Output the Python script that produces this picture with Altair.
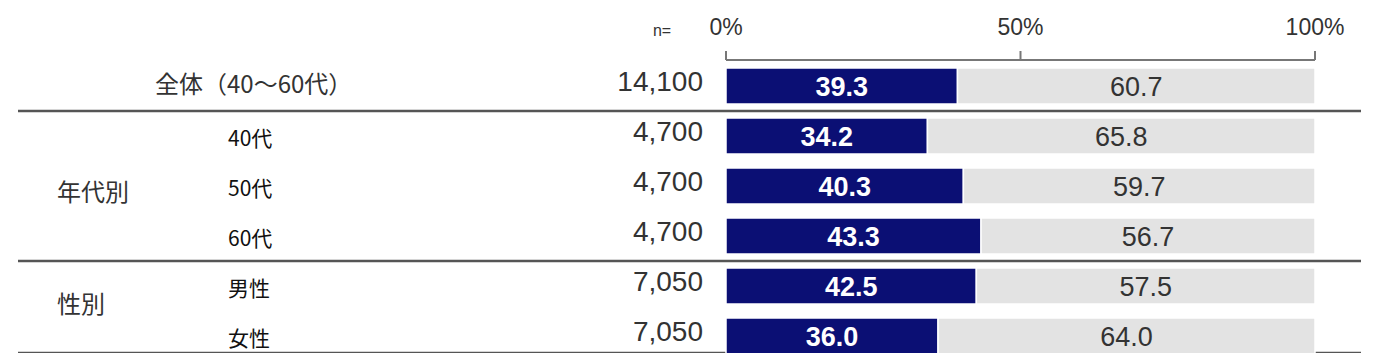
import altair as alt
import pandas as pd

# ---- data ----
rows = ["全体（40～60代）", "40代", "50代", "60代", "男性", "女性"]
n_labels = ["14,100", "4,700", "4,700", "4,700", "7,050", "7,050"]
yes_vals = [39.3, 34.2, 40.3, 43.3, 42.5, 36.0]
no_vals = [60.7, 65.8, 59.7, 56.7, 57.5, 64.0]
group_labels = ["年代別", "性別"]
group_rows = ["50代", "男性"]
group_offsets = [26, 38]
sep_rows = ["全体（40～60代）", "60代", "女性"]
sep_offsets = [43, 43, 35]
tick_vals = [0, 50, 100]
tick_text = ["0%", "50%", "100%"]

FONT = "Liberation Sans"
CJK = "Noto Sans CJK JP"
NAVY = "#0b0f74"
LGREY = "#e3e3e3"

W, H = 1368, 345

segs = []
for r, y, nn in zip(rows, yes_vals, no_vals):
    segs.append({"row": r, "start": 0.0, "end": y, "val": f"{y:.1f}", "part": "yes", "mid": y / 2})
    segs.append({"row": r, "start": y, "end": 100.0, "val": f"{nn:.1f}", "part": "no", "mid": y + nn / 2})
seg_df = pd.DataFrame(segs)
row_df = pd.DataFrame({"row": rows, "n": n_labels})
grp_df = pd.DataFrame({"row": group_rows, "label": group_labels, "off": group_offsets})
sep_df = pd.DataFrame({"row": sep_rows, "off": sep_offsets})
tick_df = pd.DataFrame({"v": tick_vals, "t": tick_text})
dom_df = pd.DataFrame({"a": [0], "b": [100]})

xs = alt.Scale(domain=[0, 100], range=[718, 1307])
ys = alt.Scale(domain=rows, range=[53, 353], paddingInner=0.28, paddingOuter=0.14)

X = lambda f: alt.X(f, type="quantitative", scale=xs, axis=None)
Y = alt.Y("row:N", scale=ys, axis=None, sort=rows)

bars = alt.Chart(seg_df).mark_bar(stroke="white", strokeWidth=1.5, strokeOpacity=1).encode(
    x=X("start"), x2="end", y=Y,
    color=alt.Color("part:N", scale=alt.Scale(domain=["yes", "no"], range=[NAVY, LGREY]), legend=None),
)

vals_yes = alt.Chart(seg_df[seg_df.part == "yes"]).mark_text(
    font=FONT, fontSize=27, fontWeight="bold", baseline="middle", yOffset=2, color="white"
).encode(x=X("mid"), y=Y, text="val:N")
vals_no = alt.Chart(seg_df[seg_df.part == "no"]).mark_text(
    font=FONT, fontSize=27, baseline="middle", yOffset=2, color="#333333"
).encode(x=X("mid"), y=Y, text="val:N")

nlab = alt.Chart(row_df).mark_text(font=FONT, fontSize=28, align="right", baseline="middle", color="#333333", yOffset=-3).encode(
    x=alt.value(695), y=Y, text="n:N"
)

top_lab = alt.Chart(row_df[row_df.row == rows[0]]).mark_text(font=CJK, fontSize=24, align="left", baseline="middle", color="#333333").encode(
    x=alt.value(147), y=Y, text="row:N"
)
sub_lab = alt.Chart(row_df[row_df.row != rows[0]]).mark_text(font=CJK, fontSize=21, align="left", baseline="middle", color="#111111", yOffset=4).encode(
    x=alt.value(220), y=Y, text="row:N"
)
grp_lab = alt.Chart(grp_df).mark_text(font=CJK, fontSize=24, align="left", baseline="middle", color="#333333").encode(
    x=alt.value(49), y=Y, yOffset=alt.YOffset("off:Q", scale=None), text="label:N"
)

seps = alt.Chart(sep_df).mark_rule(color="#555555", strokeWidth=2.5).encode(
    x=alt.value(10), x2=alt.value(1353), y=Y, yOffset=alt.YOffset("off:Q", scale=None)
)

dom = alt.Chart(dom_df).mark_rule(color="#777777", strokeWidth=2).encode(
    x=X("a"), x2="b", y=alt.value(52)
)
ticks = alt.Chart(tick_df).mark_rule(color="#777777", strokeWidth=2).encode(
    x=X("v"), y=alt.value(43), y2=alt.value(52)
)
tlab = alt.Chart(tick_df).mark_text(font=FONT, fontSize=23, baseline="middle", color="#333333").encode(
    x=X("v"), y=alt.value(20), text="t:N"
)
nEq = alt.Chart(dom_df).mark_text(font=FONT, fontSize=16, baseline="middle", color="#333333", text="n=").encode(
    x=alt.value(654), y=alt.value(23)
)

chart = alt.layer(seps, dom, ticks, tlab, nEq, bars, vals_yes, vals_no, nlab, top_lab, sub_lab, grp_lab).properties(
    width=W, height=H, padding=0, background="white", autosize=alt.AutoSizeParams(type="none")
).configure_view(stroke=None)

chart.save("out.html", embed_options={"renderer": "svg", "actions": False})
